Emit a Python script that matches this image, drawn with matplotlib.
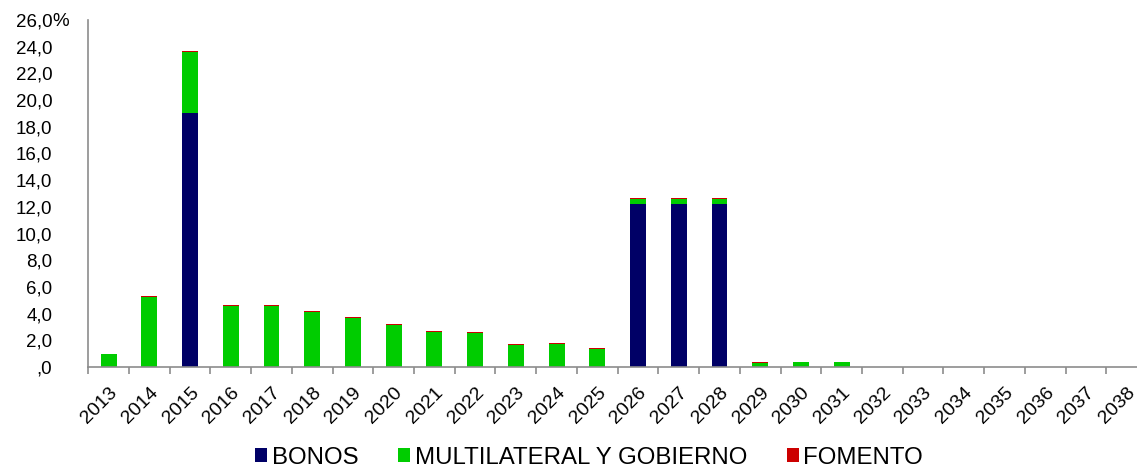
import matplotlib
matplotlib.use("Agg")
import matplotlib.pyplot as plt
import matplotlib.transforms as mtransforms
import numpy as np
from matplotlib.patches import Patch

plt.rcParams["font.family"] = ["Liberation Sans", "DejaVu Sans"]

YEARS = [str(y) for y in range(2013, 2039)]

# % of total debt maturing each year, by source
BONOS = [0, 0, 19.0, 0, 0, 0, 0, 0, 0, 0, 0, 0, 0,
         12.2, 12.2, 12.2, 0, 0, 0, 0, 0, 0, 0, 0, 0, 0]
MULTILATERAL = [0.95, 5.25, 4.6, 4.55, 4.55, 4.1, 3.65, 3.15, 2.62, 2.55, 1.65, 1.75, 1.35,
                0.4, 0.4, 0.4, 0.3, 0.35, 0.35, 0, 0, 0, 0, 0, 0, 0]
FOMENTO = [0.0, 0.04, 0.08, 0.06, 0.06, 0.08, 0.08, 0.08, 0.08, 0.08, 0.08, 0.08, 0.07,
           0.1, 0.1, 0.1, 0.1, 0.02, 0.02, 0, 0, 0, 0, 0, 0, 0]

Y_TICKS = [0, 2, 4, 6, 8, 10, 12, 14, 16, 18, 20, 22, 24, 26]

COLOR_BONOS = "#000066"
COLOR_MULTI = "#00CC00"
COLOR_FOMENTO = "#CC0000"
AXIS_GRAY = "#8C8C8C"


def fmt_tick(v):
    s = f"{v:.1f}".replace(".", ",")
    return s[1:] if s.startswith("0") else s


fig = plt.figure(figsize=(11.37, 4.68), dpi=100)
ax = fig.add_axes([88.3 / 1137, 1 - 367 / 468, (1147 - 88.3) / 1137, (367 - 20) / 468])

x = np.arange(len(YEARS))
bonos = np.array(BONOS)
multi = np.array(MULTILATERAL)
fomento = np.array(FOMENTO)
width = 0.39

ax.bar(x, bonos, width, color=COLOR_BONOS, linewidth=0)
ax.bar(x, multi, width, bottom=bonos, color=COLOR_MULTI, linewidth=0)
ax.bar(x, fomento, width, bottom=bonos + multi, color=COLOR_FOMENTO, linewidth=0)

ax.set_xlim(-0.5, len(YEARS) - 0.5)
ax.set_ylim(0, 26)

for side in ["top", "right"]:
    ax.spines[side].set_visible(False)
for side in ["left", "bottom"]:
    ax.spines[side].set_color(AXIS_GRAY)
    ax.spines[side].set_linewidth(1.2)

ax.set_yticks(Y_TICKS)
ax.set_yticklabels([fmt_tick(v) for v in Y_TICKS])
ax.tick_params(axis="y", length=0, pad=26, labelsize=13.5, labelcolor="black")

# percent sign sits after the top label
pct_trans = mtransforms.offset_copy(ax.get_yaxis_transform(), fig=fig, x=-36, y=0, units="dots")
ax.text(0, Y_TICKS[-1], "%", transform=pct_trans, ha="left", va="center_baseline", fontsize=13.5)

ax.set_xticks(x)
ax.set_xticklabels(YEARS, rotation=45, ha="right", va="top", rotation_mode="anchor")
ax.tick_params(axis="x", which="major", length=0, pad=12, labelsize=14)
ax.set_xticks(np.arange(-0.5, len(YEARS) - 0.5, 1), minor=True)
ax.tick_params(axis="x", which="minor", length=5, width=1.2, color=AXIS_GRAY)

handles = [
    Patch(facecolor=COLOR_BONOS, edgecolor="none", label="BONOS"),
    Patch(facecolor=COLOR_MULTI, edgecolor="none", label="MULTILATERAL Y GOBIERNO"),
    Patch(facecolor=COLOR_FOMENTO, edgecolor="none", label="FOMENTO"),
]
fig.legend(handles=handles, loc="lower center", bbox_to_anchor=(0.518, -0.048), ncol=3,
           frameon=False, fontsize=17.3, handlelength=0.5, handleheight=0.5,
           handletextpad=0.2, columnspacing=1.65)

fig.savefig("out.png", dpi=100)
